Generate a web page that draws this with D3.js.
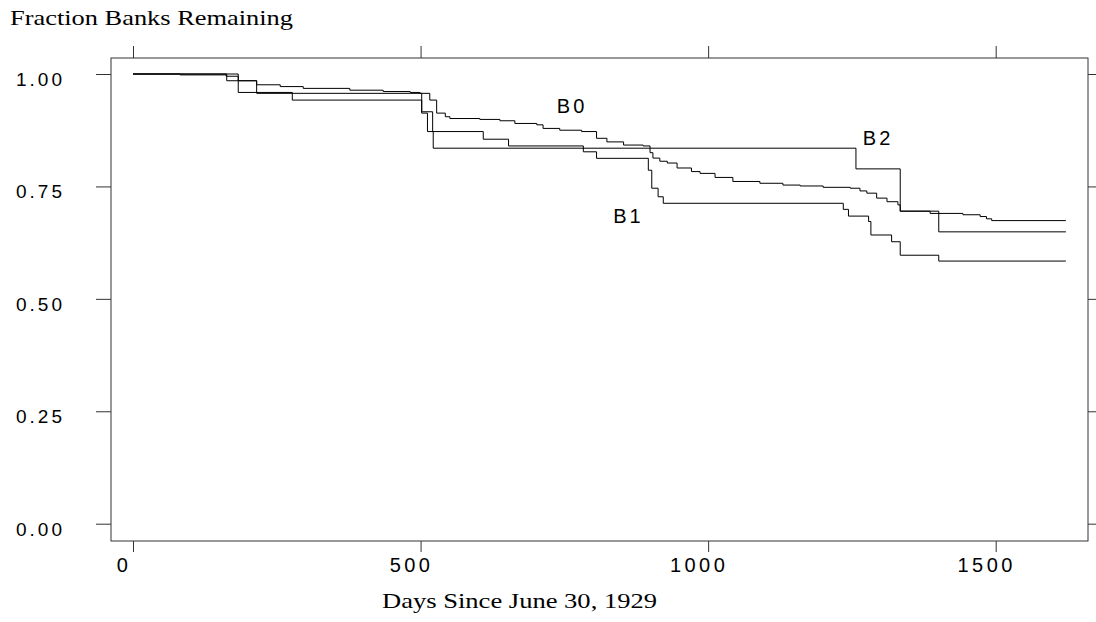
<!DOCTYPE html>
<html>
<head>
<meta charset="utf-8">
<script src="https://cdn.jsdelivr.net/npm/d3@7"></script>
<style>
  body { margin: 0; background: #fff; }
  svg { display: block; }
</style>
</head>
<body>
<div id="container"></div>
<script>
// survival curves: day of each step, fraction after it
const b0Days = [0, 82, 162, 183, 215, 256, 296, 377, 435, 482, 499, 516, 528, 543, 551, 603, 638, 664, 702, 713, 742, 780, 806, 824, 853, 887, 899, 904, 916, 929, 946, 971, 986, 1012, 1043, 1090, 1130, 1160, 1200, 1247, 1264, 1276, 1293, 1311, 1330, 1334, 1386, 1443, 1473, 1484, 1493, 1622];
const b0Frac = [1.0, 0.998, 0.995, 0.985, 0.976, 0.972, 0.968, 0.964, 0.961, 0.959, 0.957, 0.942, 0.913, 0.905, 0.901, 0.899, 0.896, 0.890, 0.887, 0.879, 0.875, 0.872, 0.857, 0.849, 0.842, 0.840, 0.825, 0.813, 0.806, 0.802, 0.791, 0.783, 0.779, 0.770, 0.761, 0.757, 0.753, 0.751, 0.748, 0.746, 0.740, 0.735, 0.724, 0.716, 0.709, 0.695, 0.690, 0.687, 0.683, 0.678, 0.674, 0.674];

const b1Days = [0, 183, 277, 502, 521, 609, 653, 783, 806, 896, 902, 913, 922, 1235, 1244, 1279, 1283, 1319, 1334, 1401, 1622];
const b1Frac = [1.0, 0.959, 0.942, 0.916, 0.872, 0.855, 0.840, 0.827, 0.8125, 0.786, 0.746, 0.727, 0.7125, 0.699, 0.684, 0.672, 0.642, 0.627, 0.597, 0.584, 0.584];

const b2Days = [0, 163, 215, 502, 512, 522, 1257, 1334, 1401, 1622];
const b2Frac = [1.0, 0.985, 0.957, 0.913, 0.872, 0.835, 0.789, 0.695, 0.649, 0.649];

const groups = ["B0", "B1", "B2"];
const labelAt = [[737, 0.913], [835, 0.669], [1269, 0.842]]; // [day, fraction] at the text baseline start

const xTicks = [0, 500, 1000, 1500];
const yTicks = [0, 0.25, 0.5, 0.75, 1.0];

const width = 1096, height = 622;
const box = {left: 111, right: 1088, top: 58, bottom: 541};

const svg = d3.select("#container").append("svg")
    .attr("width", width)
    .attr("height", height);

const x = d3.scaleLinear().domain([0, 1500]).range([133, 995.7]);
const y = d3.scaleLinear().domain([0, 1]).range([523.7, 74]);

// frame
svg.append("rect")
    .attr("x", box.left).attr("y", box.top)
    .attr("width", box.right - box.left).attr("height", box.bottom - box.top)
    .attr("fill", "none").attr("stroke", "#333").attr("stroke-width", 1);

const tickStyle = function(g) {
    g.select(".domain").remove();
    g.selectAll(".tick line").attr("stroke", "#333");
    g.selectAll("text").remove();
};

svg.append("g").attr("transform", `translate(0,${box.bottom})`)
    .call(d3.axisBottom(x).tickValues(xTicks).tickSize(11)).call(tickStyle);
svg.append("g").attr("transform", `translate(0,${box.top})`)
    .call(d3.axisTop(x).tickValues(xTicks).tickSize(12)).call(tickStyle);
svg.append("g").attr("transform", `translate(${box.left},0)`)
    .call(d3.axisLeft(y).tickValues(yTicks).tickSize(15)).call(tickStyle);
svg.append("g").attr("transform", `translate(${box.right},0)`)
    .call(d3.axisRight(y).tickValues(yTicks).tickSize(10)).call(tickStyle);

// tick labels
svg.append("g").selectAll("text")
    .data(xTicks).enter().append("text")
    .attr("x", d => x(d) - 9)
    .attr("y", 572)
    .attr("text-anchor", "middle")
    .attr("font-family", "Liberation Sans, Arial, sans-serif")
    .attr("font-size", 20)
    .attr("letter-spacing", 3.5)
    .text(d => d);

svg.append("g").selectAll("text")
    .data(yTicks).enter().append("text")
    .attr("x", 65)
    .attr("y", d => y(d) + 12)
    .attr("text-anchor", "end")
    .attr("font-family", "Liberation Sans, Arial, sans-serif")
    .attr("font-size", 19)
    .attr("letter-spacing", 3)
    .text(d => d3.format(".2f")(d));

// titles
svg.append("text")
    .attr("x", 10).attr("y", 25)
    .attr("font-family", "Liberation Serif, Times New Roman, serif")
    .attr("font-size", 22)
    .attr("textLength", 283).attr("lengthAdjust", "spacingAndGlyphs")
    .text("Fraction Banks Remaining");

svg.append("text")
    .attr("x", 382).attr("y", 608)
    .attr("font-family", "Liberation Serif, Times New Roman, serif")
    .attr("font-size", 22)
    .attr("textLength", 275).attr("lengthAdjust", "spacingAndGlyphs")
    .text("Days Since June 30, 1929");

// curves
const line = d3.line()
    .x(d => x(d[0]))
    .y(d => y(d[1]))
    .curve(d3.curveStepAfter);

const series = [
    d3.zip(b0Days, b0Frac),
    d3.zip(b1Days, b1Frac),
    d3.zip(b2Days, b2Frac)
];

svg.append("g").selectAll("path")
    .data(series).enter().append("path")
    .attr("d", line)
    .attr("fill", "none")
    .attr("stroke", "#000")
    .attr("stroke-width", 1);

svg.append("g").selectAll("text")
    .data(groups).enter().append("text")
    .attr("x", (d, i) => x(labelAt[i][0]))
    .attr("y", (d, i) => y(labelAt[i][1]))
    .attr("font-family", "Liberation Sans, Arial, sans-serif")
    .attr("font-size", 20)
    .attr("letter-spacing", 3)
    .text(d => d);
</script>
</body>
</html>
